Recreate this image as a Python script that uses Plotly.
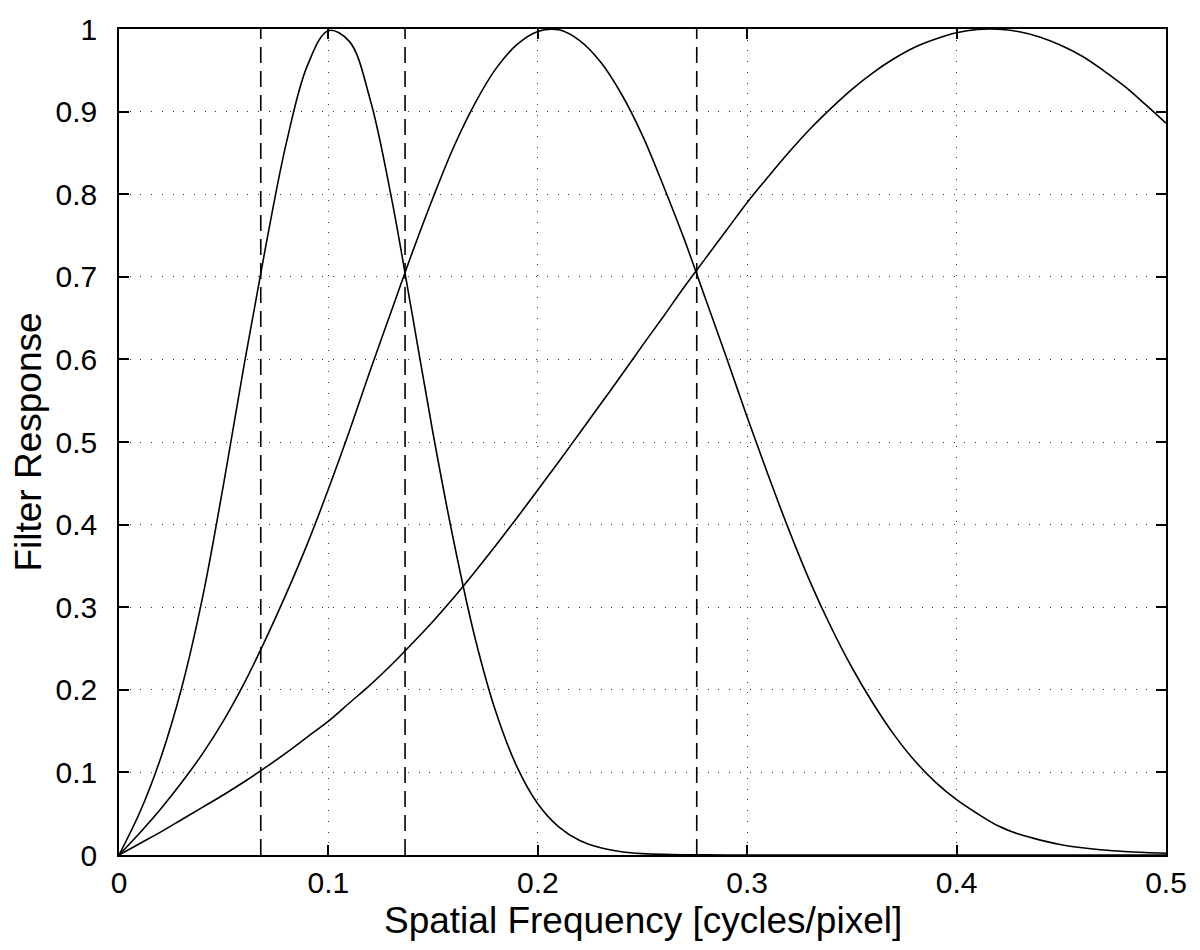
import plotly.graph_objects as go

freq = [0.00, 0.01, 0.02, 0.03, 0.04, 0.05, 0.06, 0.07, 0.08, 0.09,
        0.10, 0.11, 0.12, 0.13, 0.14, 0.15, 0.16, 0.17, 0.18, 0.19,
        0.20, 0.21, 0.22, 0.23, 0.24, 0.25, 0.26, 0.27, 0.28, 0.29,
        0.30, 0.31, 0.32, 0.33, 0.34, 0.35, 0.36, 0.37, 0.38, 0.39,
        0.40, 0.41, 0.42, 0.43, 0.44, 0.45, 0.46, 0.47, 0.48, 0.49, 0.50]

filter1 = [0.000, 0.052, 0.118, 0.203, 0.313, 0.450, 0.597, 0.736, 0.863, 0.956,
           0.998, 0.985, 0.914, 0.797, 0.655, 0.510, 0.378, 0.263, 0.173, 0.107,
           0.062, 0.034, 0.0175, 0.0087, 0.004, 0.0017, 0.0007, 0.0003, 0.0001, 0.0,
           0.0, 0.0, 0.0, 0.0, 0.0, 0.0, 0.0, 0.0, 0.0, 0.0,
           0.0, 0.0, 0.0, 0.0, 0.0, 0.0, 0.0, 0.0, 0.0, 0.0, 0.0]

filter2 = [0.000, 0.027, 0.056, 0.088, 0.123, 0.163, 0.209, 0.261, 0.317, 0.377,
           0.443, 0.513, 0.587, 0.658, 0.729, 0.796, 0.858, 0.910, 0.952, 0.981,
           0.997, 0.999, 0.986, 0.960, 0.921, 0.871, 0.810, 0.745, 0.674, 0.603,
           0.530, 0.460, 0.393, 0.331, 0.276, 0.227, 0.184, 0.146, 0.114, 0.088,
           0.067, 0.050, 0.035, 0.025, 0.018, 0.0125, 0.0088, 0.006, 0.0042, 0.003, 0.0022]

filter3 = [0.000, 0.014, 0.028, 0.043, 0.058, 0.073, 0.089, 0.106, 0.124, 0.143,
           0.162, 0.184, 0.206, 0.230, 0.256, 0.283, 0.312, 0.343, 0.375, 0.408,
           0.442, 0.476, 0.511, 0.546, 0.581, 0.617, 0.652, 0.688, 0.722, 0.756,
           0.790, 0.821, 0.851, 0.879, 0.904, 0.927, 0.947, 0.964, 0.978, 0.988,
           0.9955, 0.9994, 0.9997, 0.9966, 0.990, 0.980, 0.967, 0.950, 0.931, 0.909, 0.886]

cutoffs = [0.0677, 0.1366, 0.2759]

x_ticks = [0, 0.1, 0.2, 0.3, 0.4, 0.5]
x_labels = ["0", "0.1", "0.2", "0.3", "0.4", "0.5"]
y_ticks = [0, 0.1, 0.2, 0.3, 0.4, 0.5, 0.6, 0.7, 0.8, 0.9, 1.0]
y_labels = ["0", "0.1", "0.2", "0.3", "0.4", "0.5", "0.6", "0.7", "0.8", "0.9", "1"]

FONT = "Liberation Sans, Arial, Helvetica, sans-serif"

fig = go.Figure()
for ys in [filter1, filter2, filter3]:
    fig.add_trace(go.Scatter(x=freq, y=ys, mode="lines",
                             line=dict(color="black", width=1.6, shape="spline", smoothing=1.0),
                             showlegend=False, hoverinfo="skip"))
for c in cutoffs:
    fig.add_trace(go.Scatter(x=[c, c], y=[0, 1], mode="lines",
                             line=dict(color="black", width=1.6, dash="16px,8px"),
                             showlegend=False, hoverinfo="skip"))

axis_common = dict(showline=True, linecolor="black", linewidth=1.6, mirror="ticks",
                   ticks="inside", ticklen=10, tickwidth=1.6, tickcolor="black",
                   showgrid=True, gridcolor="#333333", gridwidth=1, griddash="1px,9.7px",
                   zeroline=False, tickfont=dict(family=FONT, size=30, color="black"))

fig.update_xaxes(range=[0, 0.5], tickvals=x_ticks, ticktext=x_labels,
                 ticklabelstandoff=0, **axis_common)
fig.update_yaxes(range=[0, 1], tickvals=y_ticks, ticktext=y_labels,
                 title=dict(text="Filter Response", font=dict(family=FONT, size=37, color="black"), standoff=14),
                 ticklabelstandoff=14, **axis_common)

fig.add_annotation(text="Spatial Frequency [cycles/pixel]", xref="paper", yref="paper",
                   x=0.5, y=0, xanchor="center", yanchor="middle", yshift=-65, showarrow=False,
                   font=dict(family=FONT, size=37, color="black"))

fig.update_layout(width=1200, height=950, margin=dict(l=111, r=42, t=21, b=103, autoexpand=False),
                  plot_bgcolor="white", paper_bgcolor="white")

fig.write_html("out.html")
